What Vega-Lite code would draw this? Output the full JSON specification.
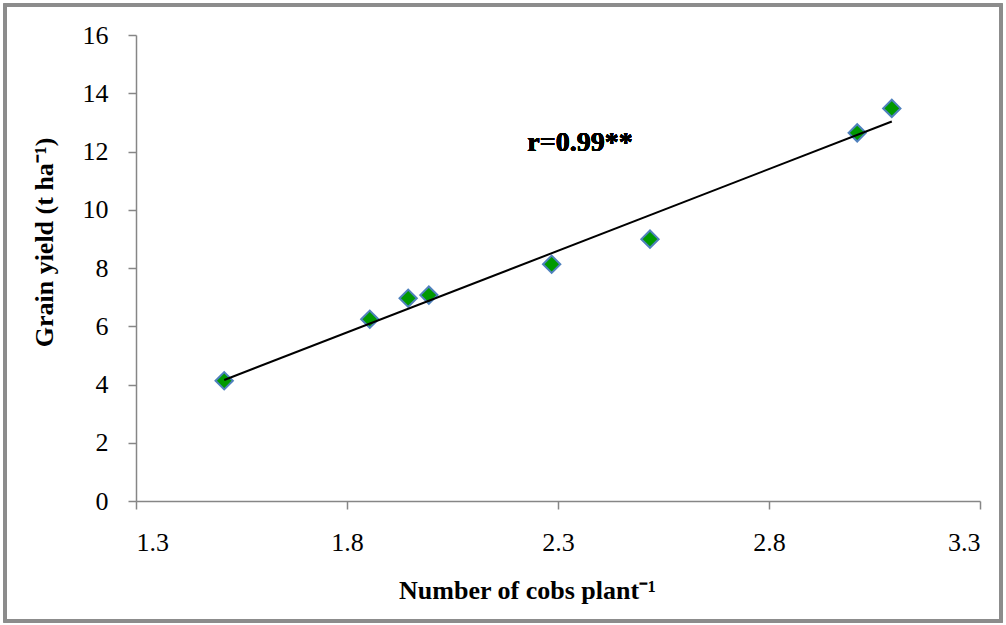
{
  "$schema": "https://vega.github.io/schema/vega-lite/v6.json",
  "width": 844,
  "height": 466,
  "autosize": {"type": "none"},
  "padding": {"left": 136, "top": 35, "right": 26, "bottom": 124},
  "background": "white",
  "config": {
    "view": {"stroke": null},
    "font": "Liberation Serif",
    "axis": {
      "grid": false,
      "domainColor": "#868686",
      "domainWidth": 1.5,
      "tickColor": "#868686",
      "tickWidth": 1.5,
      "tickSize": 8,
      "labelFont": "Liberation Serif",
      "labelFontSize": 26,
      "labelColor": "black",
      "titleFont": "Liberation Serif",
      "titleFontSize": 26,
      "titleFontWeight": "bold",
      "titleColor": "black"
    }
  },
  "data": {
    "values": [
      {"cobs": 1.509, "yield": 4.13},
      {"cobs": 1.854, "yield": 6.24},
      {"cobs": 1.945, "yield": 6.96},
      {"cobs": 1.994, "yield": 7.07},
      {"cobs": 2.285, "yield": 8.13},
      {"cobs": 2.518, "yield": 8.99},
      {"cobs": 3.009, "yield": 12.64},
      {"cobs": 3.091, "yield": 13.48}
    ]
  },
  "layer": [
    {
      "mark": {"type": "rect", "fill": null, "stroke": "#8c8c8c", "strokeWidth": 3, "clip": false},
      "encoding": {
        "x": {"datum": 0.9896, "type": "quantitative", "scale": {"domain": [1.3, 3.3]}},
        "x2": {"datum": 3.3498},
        "y": {"datum": 17.03, "type": "quantitative", "scale": {"domain": [0, 16]}},
        "y2": {"datum": -4.12}
      }
    },
    {
      "mark": {"type": "point", "shape": "diamond", "filled": true, "fill": "#009900", "stroke": "#4F81BD", "strokeWidth": 2, "size": 300, "opacity": 1},
      "encoding": {
        "x": {
          "field": "cobs", "type": "quantitative",
          "scale": {"domain": [1.3, 3.3], "nice": false, "zero": false},
          "axis": {
            "values": [1.3, 1.8, 2.3, 2.8, 3.3],
            "format": ".1f",
            "labelPadding": 20,
            "title": "Number of cobs plant⁻¹",
            "titleX": 391,
            "titleY": 97,
            "titleBaseline": "alphabetic"
          }
        },
        "y": {
          "field": "yield", "type": "quantitative",
          "scale": {"domain": [0, 16], "nice": false},
          "axis": {
            "values": [0, 2, 4, 6, 8, 10, 12, 14, 16],
            "labelPadding": 20,
            "title": "Grain yield (t ha⁻¹)",
            "titleX": -92,
            "titleY": 207,
            "titleBaseline": "middle",
            "titleAngle": 270
          }
        }
      }
    },
    {
      "transform": [{"regression": "yield", "on": "cobs"}],
      "mark": {"type": "line", "color": "black", "strokeWidth": 2},
      "encoding": {
        "x": {"field": "cobs", "type": "quantitative"},
        "y": {"field": "yield", "type": "quantitative"}
      }
    },
    {
      "mark": {"type": "text", "text": "r=0.99**", "fontSize": 28, "fontWeight": "bold", "font": "Liberation Serif", "color": "black", "align": "center", "baseline": "middle"},
      "encoding": {
        "x": {"datum": 2.352, "type": "quantitative"},
        "y": {"datum": 12.29, "type": "quantitative"}
      }
    }
  ]
}
